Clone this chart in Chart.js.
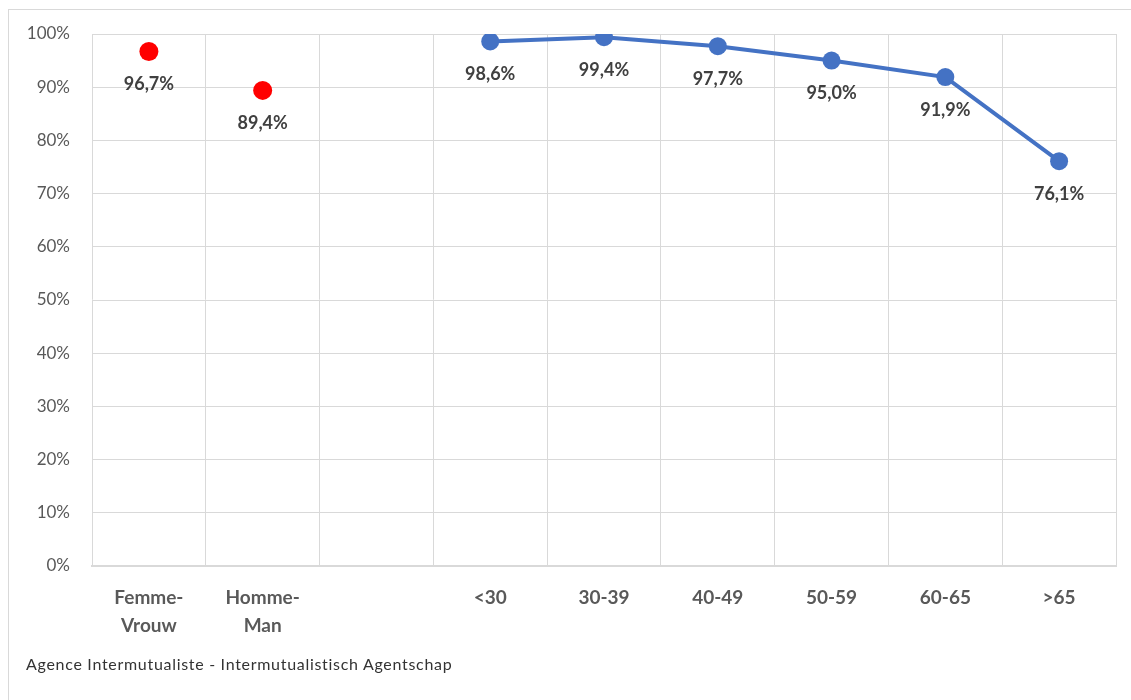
<!DOCTYPE html>
<html>
<head>
<meta charset="utf-8">
<script src="https://cdn.jsdelivr.net/npm/chart.js@4/dist/chart.umd.min.js"></script>
<style>
  body { margin: 0; background: #fff; overflow: hidden; }
  #wrap { position: relative; width: 1131px; height: 700px; }
  #frame { position: absolute; left: 8px; top: 9px; width: 1140px; height: 720px; border: 1px solid #d9d9d9; }
  #footer { position: absolute; left: 26px; top: 654px; font-family: Lato, "Liberation Sans", sans-serif; font-size: 16px; color: #333; letter-spacing: 0.7px; }
</style>
</head>
<body>
<div id="wrap">
  <div id="frame"></div>
  <canvas id="myChart" width="1131" height="700" style="position:absolute;left:0;top:0"></canvas>
  <div id="footer">Agence Intermutualiste - Intermutualistisch Agentschap</div>
</div>
<script>
const categories = [["Femme-", "Vrouw"], ["Homme-", "Man"], "", "<30", "30-39", "40-49", "50-59", "60-65", ">65"];
const genderValues = [96.7, 89.4, null, null, null, null, null, null, null];
const ageValues = [null, null, null, 98.6, 99.4, 97.7, 95.0, 91.9, 76.1];
const yTicks = [0, 10, 20, 30, 40, 50, 60, 70, 80, 90, 100];

const fontFamily = 'Lato, "Liberation Sans", sans-serif';

// draws the value under each point
const valueLabels = {
    id: 'valueLabels',
    afterDatasetsDraw(chart) {
        const ctx = chart.ctx;
        ctx.save();
        ctx.font = 'bold 18px ' + fontFamily;
        ctx.fillStyle = '#404040';
        ctx.textAlign = 'center';
        ctx.textBaseline = 'middle';
        chart.data.datasets.forEach((ds, i) => {
            chart.getDatasetMeta(i).data.forEach((pt, j) => {
                const v = ds.data[j];
                if (v === null) return;
                ctx.fillText(v.toFixed(1).replace('.', ',') + '%', pt.x, pt.y + 33);
            });
        });
        ctx.restore();
    }
};

const ctx = document.getElementById('myChart').getContext('2d');
new Chart(ctx, {
    type: 'line',
    data: {
        labels: categories,
        datasets: [{
            label: 'Sexe',
            data: genderValues,
            showLine: false,
            pointRadius: 9.5,
            pointBackgroundColor: '#ff0000',
            pointBorderColor: '#ff0000',
            pointBorderWidth: 0
        }, {
            label: 'Âge',
            data: ageValues,
            borderColor: '#4472c4',
            borderWidth: 4,
            pointRadius: 9,
            pointBackgroundColor: '#4472c4',
            pointBorderColor: '#4472c4',
            pointBorderWidth: 0,
            tension: 0
        }]
    },
    options: {
        responsive: false,
        animation: false,
        layout: { padding: { top: 34, right: 15, bottom: 0, left: 0 } },
        plugins: {
            legend: { display: false },
            tooltip: { enabled: false }
        },
        scales: {
            x: {
                offset: true,
                grid: { offset: true, color: '#d9d9d9', drawTicks: false },
                border: { color: '#d9d9d9', width: 2 },
                ticks: {
                    color: '#595959',
                    padding: 18,
                    maxRotation: 0,
                    autoSkip: false,
                    font: { family: fontFamily, size: 19, weight: 'bold', lineHeight: '28px' }
                },
                afterFit(scale) { scale.height = 134; }
            },
            y: {
                min: 0,
                max: 100,
                afterBuildTicks(scale) { scale.ticks = yTicks.map(v => ({ value: v })); },
                grid: { color: '#d9d9d9', drawTicks: false },
                border: { display: false },
                ticks: {
                    color: '#595959',
                    padding: 22,
                    font: { family: fontFamily, size: 17 },
                    callback: v => v + '%'
                },
                afterFit(scale) { scale.width = 92; }
            }
        }
    },
    plugins: [valueLabels]
});
</script>
</body>
</html>
